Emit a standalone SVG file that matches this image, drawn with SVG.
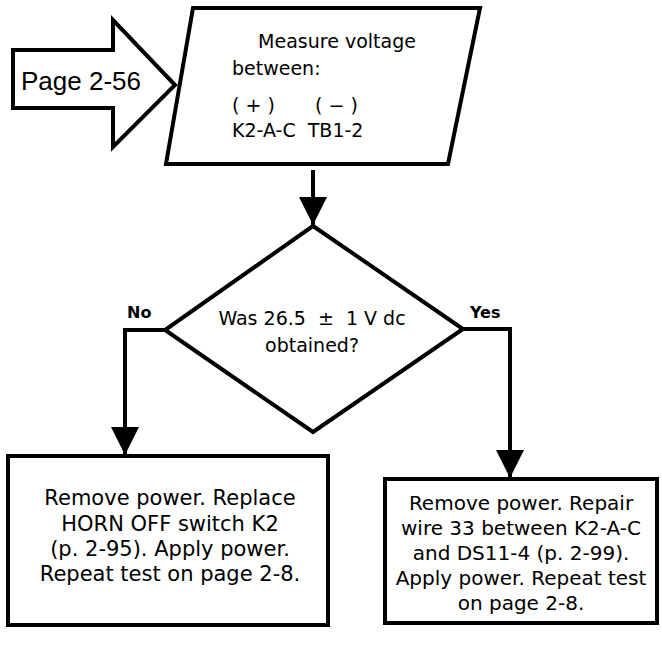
<svg xmlns="http://www.w3.org/2000/svg" width="662" height="646" viewBox="0 0 662 646">
<style>
.shape{fill:#fff;stroke:#000;stroke-width:4;stroke-linejoin:miter}
.line{fill:none;stroke:#000;stroke-width:4}
.t{font-family:"DejaVu Sans","Open Sans",sans-serif;font-size:19px;fill:#000;text-anchor:middle}
.s{text-anchor:start}
.lb{font-size:21px}
.rb{font-size:20px}
.lbl{font-family:"DejaVu Sans","Open Sans",sans-serif;font-size:16px;font-weight:bold;fill:#000}
.pg{font-family:"Liberation Sans",Arial,sans-serif;font-size:26px;fill:#000}
</style>
<defs>
<marker id="ah" viewBox="0 0 10 10" refX="10" refY="5" markerWidth="7" markerHeight="7" markerUnits="strokeWidth" orient="auto">
<path d="M0,0 L10,5 L0,10 Z" fill="#000"/>
</marker>
</defs>
<rect width="662" height="646" fill="#fff"/>
<g id="connectors">
<line class="line" x1="313" y1="170" x2="313" y2="225" marker-end="url(#ah)"/>
<polyline class="line" points="165,330 125,330 125,455" marker-end="url(#ah)"/>
<polyline class="line" points="463,329 510,329 510,478" marker-end="url(#ah)"/>
</g>
<g id="page-ref">
<path class="shape" d="M13,50 L113,50 L113,20 L175,85 L113,147 L113,108 L13,108 Z"/>
<text class="pg" x="21" y="90">Page 2-56</text>
</g>
<g id="measure">
<path class="shape" d="M193,8 L480,8 L448,164 L166,164 Z"/>
<text class="t" x="337" y="48">Measure voltage</text>
<text class="t s" x="232" y="75">between:</text>
<text class="t s" x="232" y="112" xml:space="preserve">( + )</text>
<text class="t s" x="315" y="112" xml:space="preserve">( − )</text>
<text class="t s" x="232" y="137" xml:space="preserve">K2-A-C  TB1-2</text>
</g>
<g id="decision">
<path class="shape" d="M313,226 L463,329 L313,432 L165,330 Z"/>
<text class="t" x="312" y="325" xml:space="preserve">Was 26.5  ±  1 V dc</text>
<text class="t" x="312" y="352">obtained?</text>
<text class="lbl" x="127" y="318">No</text>
<text class="lbl" x="470" y="318">Yes</text>
</g>
<g id="no-box">
<rect class="shape" x="8" y="456" width="320" height="169"/>
<text class="t lb" x="170" y="505">Remove power. Replace</text>
<text class="t lb" x="170" y="531">HORN OFF switch K2</text>
<text class="t lb" x="170" y="556">(p. 2-95). Apply power.</text>
<text class="t lb" x="170" y="581">Repeat test on page 2-8.</text>
</g>
<g id="yes-box">
<rect class="shape" x="385" y="479" width="272" height="144"/>
<text class="t rb" x="521" y="510">Remove power. Repair</text>
<text class="t rb" x="521" y="535">wire 33 between K2-A-C</text>
<text class="t rb" x="521" y="560">and DS11-4 (p. 2-99).</text>
<text class="t rb" x="521" y="585">Apply power. Repeat test</text>
<text class="t rb" x="521" y="610">on page 2-8.</text>
</g>
</svg>
